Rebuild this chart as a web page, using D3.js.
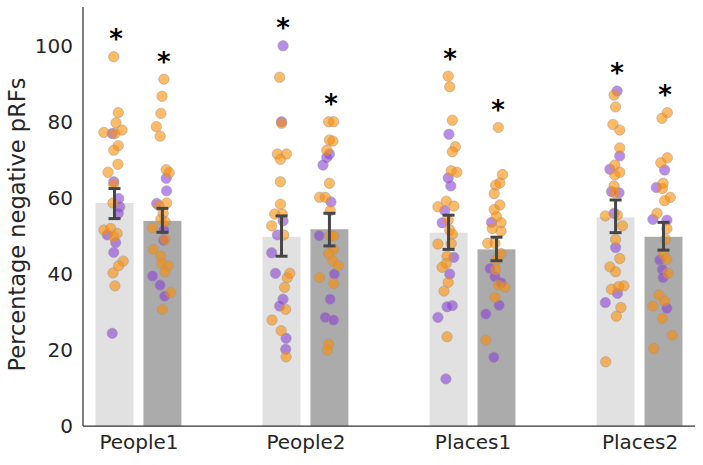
<!DOCTYPE html>
<html>
<head>
<meta charset="utf-8">
<script src="https://cdn.jsdelivr.net/npm/d3@7"></script>
<style>
  body { margin: 0; background: #fff; }
  svg { font-family: "DejaVu Sans", sans-serif; }
</style>
</head>
<body>
<svg id="chart" width="703" height="465"></svg>
<script>
// categories and the two conditions (light / dark bar)
var categories = ["People1", "People2", "Places1", "Places2"]
var conditions = ["first", "second"]

// bar heights
var barMeans = [[58.7, 54.0], [49.8, 51.8], [50.9, 46.5], [54.9, 49.8]]
var errLow = [[54.6, 51.0], [44.7, 47.4], [46.5, 43.5], [50.9, 46.3]]
var errHigh = [[62.5, 57.3], [55.3, 56.0], [55.5, 49.7], [59.5, 53.6]]
var significant = [[true, true], [true, true], [true, true], [true, true]]

var yTicks = [0, 20, 40, 60, 80, 100]

// individual points: [value, jitter (fraction of bar width), group]
var people1A = [[97.2,-0.02,'o'],[82.5,0.1,'o'],[79.8,0.04,'o'],[77.3,-0.28,'o'],[77.0,-0.06,'p'],[77.0,0.01,'o'],[77.9,0.2,'o'],[73.8,0.1,'o'],[72.6,-0.02,'o'],[68.9,0.09,'o'],[66.8,-0.17,'o'],[64.3,-0.02,'p'],[63.6,-0.02,'o'],[59.9,0.11,'p'],[58.7,-0.04,'o'],[57.7,0.14,'p'],[56.0,0.1,'p'],[51.6,-0.28,'o'],[50.3,-0.19,'p'],[52.0,-0.1,'o'],[50.7,0.07,'o'],[49.8,-0.02,'o'],[48.3,0.03,'p'],[45.7,-0.02,'p'],[43.4,0.23,'o'],[42.2,0.11,'o'],[40.3,-0.04,'o'],[36.9,0.01,'o'],[24.4,-0.06,'p']]
var people1B = [[91.3,0.04,'o'],[86.8,-0.01,'o'],[82.3,-0.04,'o'],[78.8,-0.16,'o'],[76.3,-0.06,'o'],[67.5,0.1,'o'],[66.7,0.18,'o'],[65.2,0.1,'p'],[61.9,0.11,'p'],[58.6,-0.15,'p'],[58.7,0.11,'o'],[58.0,-0.09,'o'],[56.0,0.02,'o'],[54.4,-0.04,'o'],[53.8,0.07,'o'],[52.2,-0.26,'o'],[51.6,0.04,'p'],[49.1,0.07,'o'],[48.9,0.03,'p'],[46.5,-0.24,'o'],[44.7,-0.04,'o'],[42.8,-0.02,'o'],[42.2,0.15,'o'],[40.6,0.07,'o'],[39.5,-0.26,'p'],[37.1,-0.06,'p'],[35.1,0.22,'o'],[34.2,0.06,'p'],[30.7,0,'o']]
var people2A = [[100.1,0.04,'p'],[91.8,-0.05,'o'],[80.1,0,'p'],[79.7,0,'o'],[71.6,-0.11,'o'],[71.6,0.13,'o'],[70.2,-0.03,'o'],[64.3,-0.03,'o'],[58.4,-0.03,'o'],[55.8,-0.18,'o'],[55.8,0.02,'o'],[52.7,-0.26,'o'],[54.0,0.04,'p'],[50.3,-0.11,'p'],[50.3,0.06,'o'],[45.6,-0.26,'p'],[40.2,-0.16,'p'],[39.0,0.15,'o'],[40.2,0.22,'o'],[36.5,0.08,'o'],[33.4,0.04,'p'],[31.6,-0.05,'p'],[30.7,0.11,'o'],[27.9,-0.25,'o'],[25.1,-0.01,'o'],[23.1,0.12,'p'],[20.2,0.11,'p'],[18.2,0.12,'o']]
var people2B = [[80.1,-0.02,'o'],[80.1,0.11,'o'],[75.3,0,'o'],[75.0,0.09,'o'],[72.6,-0.07,'o'],[71.6,0,'p'],[70.7,-0.07,'p'],[68.7,-0.17,'p'],[63.9,0,'o'],[60.2,-0.26,'o'],[60.2,-0.11,'o'],[59.0,0.04,'p'],[56.7,0.02,'o'],[50.1,-0.27,'p'],[50.1,0.02,'o'],[50.0,0.11,'o'],[46.5,0.11,'o'],[45.4,-0.02,'o'],[43.5,0.09,'o'],[42.2,0.24,'o'],[40.0,0.13,'p'],[39.1,-0.26,'o'],[37.5,0.11,'o'],[33.4,0.02,'p'],[28.6,-0.11,'p'],[27.9,0.11,'p'],[21.6,-0.02,'o'],[20.0,-0.05,'o']]
var places1A = [[92.1,-0.01,'o'],[89.3,0.03,'o'],[80.5,0.1,'o'],[76.8,0.01,'p'],[73.5,0.18,'o'],[72.2,0.1,'o'],[67.2,0.07,'o'],[66.8,0.22,'o'],[65.3,-0.01,'p'],[63.2,0.06,'p'],[59.2,-0.06,'o'],[57.7,-0.28,'o'],[57.9,0.14,'o'],[56.7,-0.1,'p'],[53.5,-0.17,'p'],[54.2,-0.01,'o'],[51.6,0.03,'o'],[50.5,0.1,'o'],[47.9,-0.28,'o'],[48.0,0.07,'o'],[44.4,0.14,'p'],[44.7,-0.04,'o'],[42.8,-0.06,'o'],[41.8,-0.17,'o'],[40.0,0.03,'p'],[37.8,-0.01,'o'],[35.5,-0.12,'o'],[31.7,0.1,'p'],[31.4,-0.04,'p'],[28.6,-0.28,'p'],[23.5,-0.04,'o'],[12.4,-0.07,'p']]
var places1B = [[78.6,0.05,'o'],[66.2,0.16,'o'],[64.0,0.09,'o'],[63.4,-0.02,'o'],[61.2,-0.06,'o'],[58.2,0.09,'o'],[57.0,-0.06,'o'],[55.1,0,'o'],[53.6,-0.13,'p'],[53.5,0.12,'o'],[52.0,-0.11,'o'],[51.3,0.12,'o'],[48.1,-0.23,'o'],[48.1,-0.04,'o'],[45.4,0.12,'o'],[43.7,0,'o'],[41.5,-0.17,'p'],[41.2,-0.02,'o'],[39.3,-0.04,'p'],[37.7,0.12,'p'],[37.1,0.05,'o'],[36.5,0.22,'o'],[33.9,-0.04,'o'],[31.8,0.07,'p'],[29.5,-0.28,'p'],[22.6,-0.28,'o'],[18.1,-0.07,'p']]
var places2A = [[88.2,0.04,'p'],[87.1,-0.04,'o'],[84.0,0,'o'],[79.4,-0.07,'o'],[77.9,0.11,'o'],[73.2,0.11,'o'],[71.1,0.11,'p'],[67.6,-0.15,'p'],[68.7,-0.02,'o'],[66.1,-0.02,'o'],[66.8,0.11,'o'],[63.2,-0.04,'o'],[61.7,-0.11,'p'],[61.4,0.09,'p'],[61.4,-0.02,'o'],[56.0,-0.04,'p'],[55.3,-0.27,'o'],[55.5,0.05,'o'],[52.7,0.18,'o'],[49.1,0,'o'],[47.0,0,'p'],[44.1,0.11,'o'],[41.9,-0.15,'o'],[40.6,0,'o'],[36.9,0.22,'o'],[36.7,0.08,'o'],[36.0,-0.11,'o'],[34.9,0.05,'p'],[32.5,-0.27,'p'],[31.2,0.14,'o'],[28.9,0.02,'o'],[16.9,-0.26,'o']]
var places2B = [[82.5,0.1,'o'],[81.0,-0.04,'o'],[70.6,0.1,'o'],[69.3,-0.07,'o'],[67.4,0.03,'p'],[62.8,-0.19,'p'],[63.9,-0.01,'o'],[62.5,-0.03,'o'],[60.2,0.18,'o'],[59.3,0.03,'o'],[56.0,-0.17,'o'],[54.4,-0.28,'p'],[54.2,0.09,'p'],[52.0,0.09,'o'],[49.1,0.06,'o'],[45.3,0,'o'],[43.9,0.09,'o'],[43.7,-0.1,'p'],[41.2,-0.03,'p'],[40.2,0.12,'o'],[39.1,-0.01,'p'],[34.5,-0.12,'o'],[32.9,0.03,'o'],[31.6,-0.28,'o'],[31.0,0.09,'p'],[28.3,-0.03,'o'],[23.9,0.23,'o'],[20.4,-0.26,'o']]

var pointSets = [[people1A, people1B], [people2A, people2B], [places1A, places1B], [places2A, places2B]]

var dimensions = {
    width: 703,
    height: 465,
    margin: { top: 7, bottom: 39, right: 8, left: 83 }
}

var barColors = ["#e1e1e1", "#ababab"]
var dotColors = { o: "#ff8c00", p: "#8a3fd9" }

var svg = d3.select("#chart")

var xScale = d3.scalePoint()
    .domain(categories)
    .range([dimensions.margin.left, dimensions.width - dimensions.margin.right])
    .padding(0.332)

var half = xScale.step() * 0.257
var inner = d3.scaleBand()
    .domain(conditions)
    .range([-half, half])
    .paddingInner(0.208)

var yScale = d3.scaleLinear()
    .domain([0, 110.3])
    .range([dimensions.height - dimensions.margin.bottom, dimensions.margin.top])

// flatten bars
var bars = []
categories.forEach(function (c, i) {
    conditions.forEach(function (k, j) {
        bars.push({
            cat: c, cond: k, j: j,
            mean: barMeans[i][j], lo: errLow[i][j], hi: errHigh[i][j],
            sig: significant[i][j], points: pointSets[i][j],
            cx: xScale(c) + inner(k) + inner.bandwidth() / 2
        })
    })
})

svg.append("g")
    .selectAll("rect")
    .data(bars)
    .enter()
    .append("rect")
    .attr("x", d => d.cx - inner.bandwidth() / 2)
    .attr("width", inner.bandwidth())
    .attr("y", d => yScale(d.mean))
    .attr("height", d => yScale(0) - yScale(d.mean))
    .attr("fill", d => barColors[d.j])

// dots, purple first so orange sits on top
var dots = []
bars.forEach(function (b) {
    b.points.forEach(function (p) {
        dots.push({ v: p[0], x: b.cx + p[1] * inner.bandwidth(), g: p[2] })
    })
})
dots.sort((a, b) => (a.g === b.g ? 0 : (a.g === 'p' ? -1 : 1)))

svg.append("g")
    .selectAll("circle")
    .data(dots)
    .enter()
    .append("circle")
    .attr("cx", d => d.x)
    .attr("cy", d => yScale(d.v))
    .attr("r", 5.2)
    .attr("fill", d => dotColors[d.g])
    .attr("fill-opacity", 0.6)
    .attr("stroke", "#999")
    .attr("stroke-opacity", 0.5)
    .attr("stroke-width", 1)

// error bars
var cap = 6
var eb = svg.append("g")
    .attr("stroke", "#464646")
    .attr("stroke-width", 3)
eb.selectAll(".stem").data(bars).enter().append("line")
    .attr("x1", d => d.cx).attr("x2", d => d.cx)
    .attr("y1", d => yScale(d.lo)).attr("y2", d => yScale(d.hi))
eb.selectAll(".capLo").data(bars).enter().append("line")
    .attr("x1", d => d.cx - cap).attr("x2", d => d.cx + cap)
    .attr("y1", d => yScale(d.lo)).attr("y2", d => yScale(d.lo))
eb.selectAll(".capHi").data(bars).enter().append("line")
    .attr("x1", d => d.cx - cap).attr("x2", d => d.cx + cap)
    .attr("y1", d => yScale(d.hi)).attr("y2", d => yScale(d.hi))

// significance stars above the highest point
svg.append("g")
    .selectAll("text")
    .data(bars.filter(d => d.sig))
    .enter()
    .append("text")
    .attr("x", d => d.cx + 1.5)
    .attr("y", d => yScale(d3.max(d.points, p => p[0])) - 22.5 + 14)
    .attr("text-anchor", "middle")
    .style("font-size", "26px")
    .style("font-weight", "bold")
    .attr("fill", "#000")
    .text("*")

// axes
var xAxis = svg.append("g")
    .attr("transform", "translate(0," + yScale(0) + ")")
    .call(d3.axisBottom(xScale).tickSize(0).tickPadding(9))
xAxis.select(".domain")
    .attr("d", "M" + dimensions.margin.left + ",0H" + (dimensions.width - dimensions.margin.right))
var yAxis = svg.append("g")
    .attr("transform", "translate(" + dimensions.margin.left + ",0)")
    .call(d3.axisLeft(yScale).tickValues(yTicks).tickSize(0).tickPadding(10))
yAxis.select(".domain")
    .attr("d", "M0," + dimensions.margin.top + "V" + yScale(0))

svg.selectAll(".domain").attr("stroke", "#333").attr("stroke-width", 1.25)
svg.selectAll(".tick text")
    .attr("fill", "#262626")
    .style("font-size", "20px")
    .style("font-family", "DejaVu Sans")

svg.append("text")
    .attr("transform", "rotate(-90)")
    .attr("x", -(yScale(0) + dimensions.margin.top) / 2 - 8)
    .attr("y", 25)
    .attr("text-anchor", "middle")
    .attr("fill", "#262626")
    .style("font-size", "22.5px")
    .text("Percentage negative pRFs")
</script>
</body>
</html>
